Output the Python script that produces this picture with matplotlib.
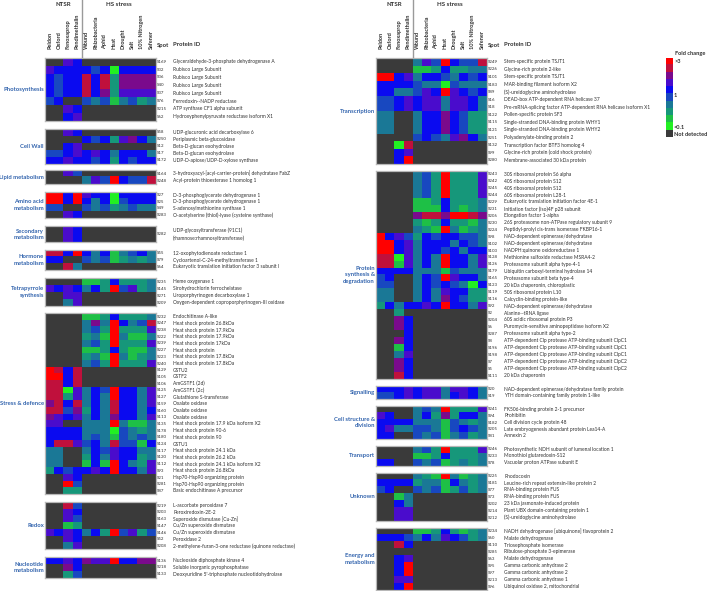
import numpy as np
import matplotlib.pyplot as plt
from matplotlib.colors import ListedColormap, BoundaryNorm
from matplotlib.lines import Line2D
from matplotlib.transforms import blended_transform_factory

plt.rcParams['font.family'] = ['Lato', 'DejaVu Sans']

conditions = ['Peldon', 'Oxford', 'Fenoxaprop', 'Pendimethalin', 'Wound',
              'Rhizobacteria', 'Aphid', 'Heat', 'Drought', 'Salt',
              '10% Nitrogen', 'Safener']

# fold-change classes, lowest (<0.1) to highest (>3); '.' = not detected
fold_codes = 'LGtTbBVPCR'
fold_colors = ['#22f022', '#1ec046', '#16977a', '#1a7896', '#1848c0',
               '#0a0af0', '#4a0ccc', '#7a0a8c', '#c0103c', '#ff0000']
nd_color = '#3a3a3a'

# ---------------- left panel ----------------
left_groups = ['Photosynthesis', 'Cell Wall', 'Lipid metabolism',
               'Amino acid\nmetabolism', 'Secondary\nmetabolism',
               'Hormone\nmetabolism', 'Tetrapyrrole\nsynthesis',
               'Stress & defence', 'Redox', 'Nucleotide\nmetabolism']
left_sizes = [8, 5, 2, 4, 1, 3, 4, 27, 7, 3]
left_spots = ['S169', 'S32', 'S36', 'S40', 'S37', 'S76', 'S215', 'S62',
              'S58', 'S250', 'S12', 'S17', 'S172',
              'S164', 'S248',
              'S27', 'S25', 'S49', 'S283',
              'S282',
              'S55', 'S79', 'S64',
              'S235', 'S145', 'S271', 'S209',
              'S232', 'S247', 'S238', 'S222', 'S239', 'S227', 'S223', 'S240',
              'S129', 'S105', 'S106', 'S125', 'S127', 'S159', 'S160', 'S113',
              'S135', 'S178', 'S180', 'S124', 'S117', 'S120', 'S112', 'S93',
              'S21', 'S281', 'S87',
              'S219', 'S203', 'S163', 'S147', 'S146', 'S52', 'S208',
              'S136', 'S218', 'S133']
left_proteins = [
    'Glyceraldehyde-3-phosphate dehydrogenase A', 'Rubisco Large Subunit',
    'Rubisco Large Subunit', 'Rubisco Large Subunit', 'Rubisco Large Subunit',
    'Ferredoxin--NADP reductase', 'ATP synthase CF1 alpha subunit',
    'Hydroxyphenylpyruvate reductase isoform X1',
    'UDP-glucuronic acid decarboxylase 6', 'Periplasmic beta-glucosidase',
    'Beta-D-glucan exohydrolase', 'Beta-D-glucan exohydrolase',
    'UDP-D-apiose/UDP-D-xylose synthase',
    '3-hydroxyacyl-[acyl-carrier-protein] dehydratase FabZ',
    'Acyl-protein thioesterase 1 homolog 1',
    'D-3-phosphoglycerate dehydrogenase 1', 'D-3-phosphoglycerate dehydrogenase 1',
    'S-adenosylmethionine synthase 1',
    'O-acetylserine (thiol)-lyase (cysteine synthase)',
    'UDP-glycosyltransferase (91C1)\n(rhamnose:rhamnosyltransferase)',
    '12-oxophytodienoate reductase 1', 'Cycloartenol-C-24-methyltransferase 1',
    'Eukaryotic translation initiation factor 3 subunit I',
    'Heme oxygenase 1', 'Sirohydrochlorin ferrochelatase',
    'Uroporphyrinogen decarboxylase 1',
    'Oxygen-dependent coproporphyrinogen-III oxidase',
    'Endochitinase A-like', 'Heat shock protein 26.8kDa',
    'Heat shock protein 17.9kDa', 'Heat shock protein 17.9kDa',
    'Heat shock protein 17kDa', 'Heat shock protein',
    'Heat shock protein 17.8kDa', 'Heat shock protein 17.8kDa',
    'GSTU2', 'GSTF2', 'AmGSTF1 (2d)', 'AmGSTF1 (2c)',
    'Glutathione S-transferase', 'Oxalate oxidase', 'Oxalate oxidase',
    'Oxalate oxidase', 'Heat shock protein 17.9 kDa isoform X2',
    'Heat shock protein 90-6', 'Heat shock protein 90', 'GSTU1',
    'Heat shock protein 24.1 kDa', 'Heat shock protein 26.2 kDa',
    'Heat shock protein 24.1 kDa isoform X2', 'Heat shock protein 26.8kDa',
    'Hsp70-Hsp90 organizing protein', 'Hsp70-Hsp90 organizing protein',
    'Basic endochitinase A precursor',
    'L-ascorbate peroxidase 7', 'Peroxiredoxin-2E-2',
    'Superoxide dismutase [Cu-Zn]', 'Cu/Zn superoxide dismutase',
    'Cu/Zn superoxide dismutase', 'Peroxidase 2',
    '2-methylene-furan-3-one reductase (quinone reductase)',
    'Nucleoside diphosphate kinase 4', 'Soluble inorganic pyrophosphatase',
    "Deoxyuridine 5'-triphosphate nucleotidohydrolase"]
left_cells = [
    '..VB........', 'VBBBBbBLBBBB', 'BbBBCBCtPPPP', 'BbBBCBCtPPPP',
    'BbBBCBPtVVVV', 'bB..bTbGTbtT', '..VB........', '..BV........',
    '..VB........', '....BbBtVPBT', '..BV........', 'bbBVBVBTBBBT',
    'BBVBBbBtBbBB',
    '..Vb........', '....TVbRBbbC',
    'RRBRVBBLBBBB', 'RRBRBTBLbBBB', 'bb..bTbtTbTT', '..VB........',
    '..VB........',
    'CCBRBTBGTbBT', 'BB..bTbGtTtT', '..CT........',
    '....GGtBtttT', 'VBVBTBtRbVtT', '..VV........', '..TV........',
    '....GGtBtttT', '....TPTRBTbC', '....TbtRtttV', '....tTGRTGGT',
    '....TbtRtttV', '....GGtBtGGT', '....tTGRTGtT', '....TbtRtttV',
    'RCBC........', 'RRBC........', 'CCBC........', 'CCLVTBbRBBTV',
    'CCtVTBTRBBTV', 'PCBCTBTCBBTV', 'CCbPtBTCBBTB', 'PVBVTBTPBBTV',
    'VV..TTTRTGGT', 'BBBBTTTLbTtT', 'BBBBTbTGbTbT', 'BCCVbBTCbbGB',
    'TT..TBbVBBTT', 'TT..tBTVBBtT', 'TT..GBGRBTtV', 'tBbBBVBRBBTV',
    '..VB........', '..Rb........', '..tt........',
    '..Cb........', '..VB........', '..Vb........', '..Gt........',
    'VBVBTBtRbVtb', '..VB........', '..TV........',
    'BBVBPVVRBBPP', '..PB........', '..tb........']

# ---------------- right panel ----------------
right_groups = ['Transcription', 'Protein\nsynthesis &\ndegradation',
                'Signalling', 'Cell structure &\ndivision', 'Transport',
                'Unknown', 'Energy and\nmetabolism']
right_sizes = [14, 30, 2, 5, 3, 7, 9]
right_spots = ['S249', 'S226', 'S101', 'S183', 'S89', 'S16', 'S18', 'S122',
               'S115', 'S121', 'S251', 'S132', 'S99', 'S280',
               'S243', 'S242', 'S245', 'S244', 'S229', 'S231', 'S206', 'S230',
               'S224', 'S98', 'S102', 'S103', 'S128', 'S126', 'S179', 'S165',
               'S123', 'S119', 'S116', 'S92', 'S2', 'S204', 'S6', 'S287',
               'S8', 'S196', 'S198', 'S7', 'S5', 'S111',
               'S20', 'S19',
               'S241', 'S94', 'S182', 'S205', 'S81',
               'S246', 'S233', 'S78',
               'S225', 'S181', 'S77', 'S73', 'S202', 'S214', 'S212',
               'S234', 'S60', 'S110', 'S285', 'S63', 'S95', 'S97', 'S213',
               'S96']
right_proteins = [
    'Stem-specific protein TSJT1', 'Glycine-rich protein 2-like',
    'Stem-specific protein TSJT1', 'MAR-binding filament isoform X2',
    '(S)-ureidoglycine aminohydrolase', 'DEAD-box ATP-dependent RNA helicase 37',
    'Pre-mRNA-splicing factor ATP-dependent RNA helicase isoform X1',
    'Pollen-specific protein SF3', 'Single-stranded DNA-binding protein WHY1',
    'Single-stranded DNA-binding protein WHY2', 'Polyadenylate-binding protein 2',
    'Transcription factor BTF3 homolog 4',
    'Glycine-rich protein (cold shock protein)',
    'Membrane-associated 30 kDa protein',
    '30S ribosomal protein S6 alpha', '40S ribosomal protein S12',
    '40S ribosomal protein S12', '60S ribosomal protein L28-1',
    'Eukaryotic translation initiation factor 4E-1',
    'Initiation factor (iso)4F p28 subunit', 'Elongation factor 1-alpha',
    '26S proteasome non-ATPase regulatory subunit 9',
    'Peptidyl-prolyl cis-trans isomerase FKBP16-1',
    'NAD-dependent epimerase/dehydratase', 'NAD-dependent epimerase/dehydratase',
    'NADPH:quinone oxidoreductase 1', 'Methionine sulfoxide reductase MSRA4-2',
    'Proteasome subunit alpha type-4-1',
    'Ubiquitin carboxyl-terminal hydrolase 14',
    'Proteasome subunit beta type-4', '20 kDa chaperonin, chloroplastic',
    '50S ribosomal protein L10', 'Calcyclin-binding protein-like',
    'NAD-dependent epimerase/dehydratase', 'Alanine--tRNA ligase',
    '60S acidic ribosomal protein P3',
    'Puromycin-sensitive aminopeptidase isoform X2',
    'Proteasome subunit alpha type-2',
    'ATP-dependent Clp protease ATP-binding subunit ClpC1',
    'ATP-dependent Clp protease ATP-binding subunit ClpC1',
    'ATP-dependent Clp protease ATP-binding subunit ClpC1',
    'ATP-dependent Clp protease ATP-binding subunit ClpC2',
    'ATP-dependent Clp protease ATP-binding subunit ClpC2',
    '20 kDa chaperonin',
    'NAD-dependent epimerase/dehydratase family protein',
    'YTH domain-containing family protein 1-like',
    'FK506-binding protein 2-1 precursor', 'Prohibitin',
    'Cell division cycle protein 48',
    'Late embryogenesis abundant protein Lea14-A', 'Annexin 2',
    'Photosynthetic NDH subunit of lumenal location 1',
    'Monothiol glutaredoxin-S12', 'Vacuolar proton ATPase subunit E',
    'Rhodocoxin', 'Leucine-rich repeat extensin-like protein 2',
    'RNA-binding protein FUS', 'RNA-binding protein FUS',
    '23 kDa jasmonate-induced protein',
    'Plant UBX domain-containing protein 1',
    '(S)-ureidoglycine aminohydrolase',
    'NADH dehydrogenase [ubiquinone] flavoprotein 2', 'Malate dehydrogenase',
    'Triosephosphate isomerase', 'Ribulose-phosphate 3-epimerase',
    'Malate dehydrogenase', 'Gamma carbonic anhydrase 2',
    'Gamma carbonic anhydrase 2', 'Gamma carbonic anhydrase 1',
    'Ubiquinol oxidase 2, mitochondrial']
right_cells = [
    '....TVbRBbbC', '....GGtBttTT', 'RRBVTBBbTBbB', 'BBBBbTTLbTTT',
    'BBTTbVBRVBbB', 'bbBVBVVTVVBT', 'bbBVBVVTVVBT', 'TT..TBBPBbtt',
    'TT..TBBPBbtt', 'TT..TBBPBbtt', '....bBbTVPBT', '..LC........',
    '..BV........', '..BR........',
    '....TbtRtttV', '....TbtRtttV', '....TbtRtttV', '....TbtRtttV',
    '....GGtBtttT', '....GGGBtGtT', '....PCCPRRCP', '....tGtBttGT',
    '....TtGRTGtT', 'RBVbtBbBBbbT', 'RRBVTBBBTBbT', 'RRBVTBBbBTBB',
    'CCLVTBTRBBTV', 'CCGVTBTRBBTV', 'BBBBTTTGbTTT', 'bB..TBbRVBBT',
    'bb..TBbBbTLB', 'TT..TBTVBBtt', 'TT..TBTPBbtt', 'tBTBBVBRBBTV',
    '..t.........', '..PB........', '..PB........', '...B........',
    '..PB........', '..GB........', '..TV........', '..PB........',
    '..PB........', '..CB........',
    'BBBVBVVTVVBT', 'bbBVBVVTBVBT',
    '....TbTRtttV', 'VB..TBtPtBBT', 'BBBBTTTGbTtT', 'BVTTbbTGbBbT',
    'BB..bTbGTbtT',
    '....TbtRtttV', '....GGtBtttT', 'BB..bTbGtTtT',
    '....TtGRTGtT', 'BBBBtTTGBTtT', 'bB..bTbGtbtT', '..GT........',
    '..BT........', '..VV........', '..VV........',
    '....GGtBtGtT', 'BBBbTBTVBbtT', '..CB........', '............',
    '..BV........', '..BR........', '..BR........', '..VV........',
    '..BR........']

# ---------------- layout (pixels from top-left of a 709x591 image) ----------------
W, H = 709, 591
left_x = (45.0, 155.7)
right_x = (376.0, 486.7)
left_blocks_px = [(57.7, 120.7), (129.0, 163.7), (170.0, 184.3), (191.7, 218.3),
                  (226.3, 242.3), (250.0, 270.3), (278.3, 306.0),
                  (313.3, 494.3), (502.3, 549.3), (557.3, 577.7)]
right_blocks_px = [(58.0, 164.0), (170.7, 379.0), (385.7, 399.3),
                   (405.7, 439.3), (446.0, 466.0), (472.7, 521.0),
                   (527.7, 590.0)]

cmap = ListedColormap(fold_colors)
cmap.set_bad(nd_color)
norm = BoundaryNorm(np.arange(-0.5, len(fold_codes)), cmap.N)
label_blue = '#3163ad'
text_grey = '#303030'


def code_matrix(rows):
    vals = np.full((len(rows), len(conditions)), np.nan)
    for i, row in enumerate(rows):
        for j, ch in enumerate(row):
            if ch != '.':
                vals[i, j] = fold_codes.index(ch)
    return vals


def fig_rect(x0, x1, top, bot):
    return [x0 / W, 1 - bot / H, (x1 - x0) / W, (bot - top) / H]


def draw_panel(fig, groups, sizes, spots, proteins, cells, xs, blocks_px):
    x0, x1 = xs
    start = 0
    for name, n, (top, bot) in zip(groups, sizes, blocks_px):
        ax = fig.add_axes(fig_rect(x0, x1, top, bot))
        ax.imshow(code_matrix(cells[start:start + n]), cmap=cmap, norm=norm,
                  aspect='auto', interpolation='nearest')
        ax.set_xticks([])
        ax.set_yticks([])
        for s in ax.spines.values():
            s.set_color('#b8b8b8')
            s.set_linewidth(0.9)
        tr = blended_transform_factory(fig.transFigure, ax.transData)
        for i in range(n):
            ax.text((x1 + 1.5) / W, i, spots[start + i], transform=tr,
                    fontsize=3.2, color=text_grey, va='center', ha='left')
            ax.text((x1 + 17.5) / W, i, proteins[start + i], transform=tr,
                    fontsize=3.5, color=text_grey, va='center', ha='left',
                    linespacing=1.6)
        ax.text((x0 - 1.0) / W, (n - 1) / 2, name, transform=tr,
                fontsize=4.2, color=label_blue, fontweight='bold',
                va='center', ha='right', linespacing=1.35)
        start += n

    # header
    cw = (x1 - x0) / len(conditions)
    for j, c in enumerate(conditions):
        fig.text((x0 + (j + 0.5) * cw) / W, 1 - 49 / H, c, rotation=90,
                 fontsize=4.0, fontweight='bold', color=text_grey,
                 ha='center', va='bottom')
    xsep = x0 + 4 * cw
    fig.text((x0 + xsep) / 2 / W, 1 - 5 / H, 'NTSR', fontsize=4.4,
             fontweight='bold', color=text_grey, ha='center', va='center')
    fig.text((xsep + x1) / 2 / W, 1 - 5 / H, 'HS stress', fontsize=4.4,
             fontweight='bold', color=text_grey, ha='center', va='center')
    fig.text((x1 + 1.5) / W, 1 - 45 / H, 'Spot', fontsize=4.2,
             fontweight='bold', color=text_grey, ha='left', va='center')
    fig.text((x1 + 17.5) / W, 1 - 45 / H, 'Protein ID', fontsize=4.2,
             fontweight='bold', color=text_grey, ha='left', va='center')
    fig.add_artist(Line2D([xsep / W, xsep / W], [1.0, 1 - 57 / H],
                          transform=fig.transFigure, color='#9a9a9a', lw=1.0))


fig = plt.figure(figsize=(7.09, 5.91), dpi=100)
draw_panel(fig, left_groups, left_sizes, left_spots, left_proteins, left_cells,
           left_x, left_blocks_px)
draw_panel(fig, right_groups, right_sizes, right_spots, right_proteins,
           right_cells, right_x, right_blocks_px)

# legend bar
lax = fig.add_axes(fig_rect(666.0, 673.0, 58.0, 137.0))
legend_vals = np.append(np.arange(len(fold_codes) - 1, -1, -1.0), np.nan)
lax.imshow(legend_vals[:, None], cmap=cmap, norm=norm, aspect='auto',
           interpolation='nearest')
lax.set_xticks([])
lax.set_yticks([])
for s in lax.spines.values():
    s.set_visible(False)
ltr = blended_transform_factory(fig.transFigure, lax.transData)
for y, lab in [(0.0, '>3'), (4.7, '1'), (9.2, '<0.1'), (10.1, 'Not detected')]:
    lax.text(674.0 / W, y, lab, transform=ltr, fontsize=4.1,
             fontweight='bold', color=text_grey, va='center', ha='left')
fig.text(675.0 / W, 1 - 53 / H, 'Fold change', fontsize=4.1,
         fontweight='bold', color=text_grey, ha='left', va='center')

fig.savefig('out.png', dpi=100)
